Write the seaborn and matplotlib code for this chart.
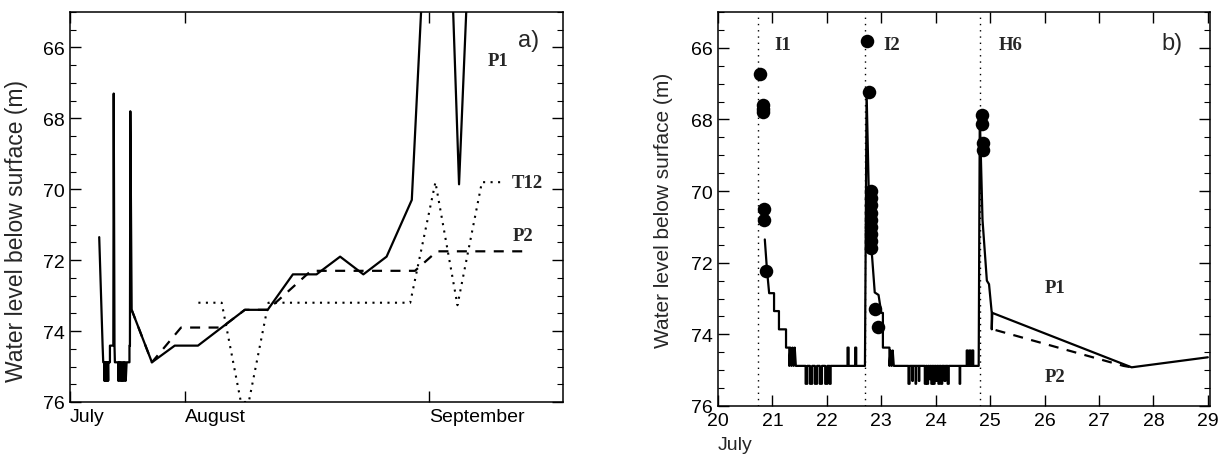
import matplotlib
matplotlib.use("Agg")
import matplotlib.pyplot as plt
import seaborn as sns
import pandas as pd
from matplotlib.ticker import MultipleLocator

sns.set_theme(style="ticks")
plt.rcParams['font.family'] = ['Liberation Sans', 'DejaVu Sans']

# ---------------- Panel a) : days counted from 1 July (Aug 1 = 32, Sep 1 = 63)
a_month_ticks = [17.4, 32, 63]
a_month_labels = ["July", "August", "September"]

a_p1_day = [21.11, 21.54, 21.62, 21.75,
            21.75, 21.80, 21.85, 21.90, 21.95, 22.00, 22.05, 22.10, 22.15, 22.20, 22.25, 22.28,
            22.47, 22.47, 22.90, 22.95, 23.05, 23.10,
            23.52, 23.52, 23.60, 23.68, 23.76, 23.84, 23.92, 24.00, 24.08, 24.16, 24.24, 24.32, 24.40, 24.48, 24.59,
            24.95, 24.95, 25.01, 25.06, 25.23, 27.80, 30.70, 33.65, 39.60, 42.50, 45.70, 48.70,
            51.70, 54.65, 57.60, 60.80, 62.20, 65.90, 66.80, 67.90]
a_p1_level = [71.35, 74.41, 74.88, 74.88,
              75.40, 74.88, 75.40, 74.88, 75.40, 74.88, 75.40, 74.88, 75.40, 74.88, 75.40, 74.88,
              74.88, 74.41, 74.41, 67.30, 74.41, 74.88,
              74.88, 75.40, 74.88, 75.40, 74.88, 75.40, 74.88, 75.40, 74.88, 75.40, 74.88, 75.40, 74.88, 75.40, 74.88,
              74.88, 74.41, 74.41, 67.80, 73.40, 74.88, 74.41, 74.41, 73.40, 73.40, 72.40, 72.40,
              71.90, 72.40, 71.90, 70.30, 64.00, 64.00, 69.86, 64.00]

a_p2_day = [25.23, 27.80, 31.50, 36.66, 39.60, 42.50, 48.00, 61.20, 64.00, 75.80]
a_p2_level = [73.40, 74.88, 73.90, 73.90, 73.40, 73.40, 72.30, 72.30, 71.75, 71.75]

a_t12_day = [33.70, 36.66, 39.10, 40.10, 42.60, 60.60, 63.80, 66.60, 69.70, 72.40]
a_t12_level = [73.20, 73.20, 76.00, 76.00, 73.20, 73.20, 69.80, 73.27, 69.80, 69.80]

# ---------------- Panel b) : days of July
b_p1_day = [20.86, 20.90, 20.94, 21.03, 21.03, 21.12, 21.12, 21.25, 21.25, 21.31,
            21.31, 21.33, 21.35, 21.37, 21.39, 21.41, 21.43,
            21.61, 21.61, 21.64, 21.64, 21.69, 21.69, 21.73, 21.73, 21.78, 21.78, 21.82, 21.82,
            21.87, 21.87, 21.91, 21.91, 21.97, 21.97, 22.01, 22.01, 22.05, 22.05, 22.07, 22.07,
            22.38, 22.38, 22.40, 22.40, 22.52, 22.52, 22.54, 22.54,
            22.70, 22.73, 22.77, 22.82, 22.88, 22.95, 23.00, 23.03, 23.03, 23.15, 23.15,
            23.17, 23.19, 23.21, 23.23, 23.26,
            23.50, 23.50, 23.52, 23.52, 23.57, 23.57, 23.58, 23.58, 23.63, 23.63, 23.64, 23.64,
            23.69, 23.69, 23.70, 23.70, 23.80, 23.80, 23.82, 23.82, 23.84, 23.84, 23.86, 23.86,
            23.88, 23.88, 23.90, 23.90, 23.92, 23.92, 23.94, 23.94, 23.96, 23.96, 23.98, 23.98,
            24.00, 24.00, 24.02, 24.02, 24.05, 24.05, 24.07, 24.07, 24.10, 24.10, 24.12, 24.12,
            24.16, 24.16, 24.18, 24.18, 24.22, 24.22, 24.24, 24.24, 24.44, 24.44, 24.45, 24.45,
            24.57, 24.57, 24.59, 24.59, 24.62, 24.62, 24.64, 24.64, 24.67, 24.67, 24.69, 24.69,
            24.79, 24.81, 24.86, 24.94, 24.98, 25.03, 25.03, 25.04, 27.60, 29.00]
b_p1_level = [71.35, 72.20, 72.85, 72.85, 73.35, 73.35, 73.86, 73.86, 74.37, 74.37,
              74.88, 74.37, 74.88, 74.37, 74.88, 74.37, 74.88,
              74.88, 75.38, 75.38, 74.88, 74.88, 75.38, 75.38, 74.88, 74.88, 75.38, 75.38, 74.88,
              74.88, 75.38, 75.38, 74.88, 74.88, 75.38, 75.38, 74.88, 74.88, 75.38, 75.38, 74.88,
              74.88, 74.37, 74.37, 74.88, 74.88, 74.37, 74.37, 74.88,
              74.88, 67.22, 70.00, 71.60, 72.83, 72.90, 73.40, 73.40, 74.37, 74.37, 74.88,
              74.45, 74.88, 74.45, 74.88, 74.88,
              74.88, 75.38, 75.38, 74.88, 74.88, 75.30, 75.30, 74.88, 74.88, 75.38, 75.38, 74.88,
              74.88, 75.30, 75.30, 74.88, 74.88, 75.38, 75.38, 74.88, 74.88, 75.38, 75.38, 74.88,
              74.88, 75.25, 75.25, 74.88, 74.88, 75.38, 75.38, 74.88, 74.88, 75.38, 75.38, 74.88,
              74.88, 75.30, 75.30, 74.88, 74.88, 75.38, 75.38, 74.88, 74.88, 75.38, 75.38, 74.88,
              74.88, 75.30, 75.30, 74.88, 74.88, 75.38, 75.38, 74.88, 74.88, 75.38, 75.38, 74.88,
              74.88, 74.45, 74.45, 74.88, 74.88, 74.45, 74.45, 74.88, 74.88, 74.45, 74.45, 74.88,
              74.88, 67.87, 70.80, 72.50, 72.60, 73.40, 73.86, 73.40, 74.92, 74.64]

b_p2_day = [25.10, 27.45, 27.60]
b_p2_level = [73.88, 74.88, 74.92]

b_dot_day = [20.775, 20.82, 20.82, 20.82, 20.84, 20.84, 20.88,
             22.74, 22.77, 22.81, 22.81, 22.81, 22.81, 22.82, 22.82, 22.82, 22.82, 22.82, 22.89, 22.94,
             24.85, 24.85, 24.86, 24.86]
b_dot_level = [66.73, 67.60, 67.70, 67.80, 70.50, 70.80, 72.23,
               65.82, 67.22, 70.00, 70.20, 70.40, 70.60, 70.80, 71.00, 71.20, 71.40, 71.60, 73.30, 73.80,
               67.87, 68.14, 68.65, 68.84]

event_day = [20.73, 22.71, 24.82]
event_name = ["I1", "I2", "H6"]
b_day_ticks = [20, 21, 22, 23, 24, 25, 26, 27, 28, 29]

# ---------------- Figure
fig = plt.figure(figsize=(12.21, 4.56), dpi=100)
ax1 = fig.add_axes([0.05733, 0.11623, 0.40377, 0.85526])
ax2 = fig.add_axes([0.58804, 0.10746, 0.40295, 0.86404])

lw = 1.6
serif = dict(family=['Liberation Serif', 'DejaVu Serif'], fontweight='bold', fontsize=13.5)

# Panel a
sns.lineplot(x=a_p1_day, y=a_p1_level, sort=False, estimator=None, color='black', lw=lw, ax=ax1)
sns.lineplot(x=a_p2_day, y=a_p2_level, sort=False, estimator=None, color='black', lw=lw,
             linestyle=(0, (4.5, 3.8)), ax=ax1)
sns.lineplot(x=a_t12_day, y=a_t12_level, sort=False, estimator=None, color='black', lw=1.5,
             linestyle=(0, (1, 2.6)), ax=ax1)

ax1.set_xlim(17.4, 80.0)
ax1.set_ylim(76, 65)
ax1.set_xticks(a_month_ticks)
ax1.set_xticklabels(a_month_labels)
for t in ax1.get_xticklabels():
    t.set_horizontalalignment('left')
ax1.yaxis.set_major_locator(MultipleLocator(2))
ax1.yaxis.set_minor_locator(MultipleLocator(0.5))
ax1.text(70.4, 66.37, "P1", ha='left', va='center', **serif)
ax1.text(73.5, 69.8, "T12", ha='left', va='center', **serif)
ax1.text(73.6, 71.3, "P2", ha='left', va='center', **serif)
ax1.text(75.6, 65.8, "a)", ha='center', va='center', fontsize=17)
ax1.set_ylabel("Water level below surface (m)", fontsize=16.5)
ax1.yaxis.set_label_coords(-0.086, 0.44)
ax1.set_xlabel("")

# Panel b
for d in event_day:
    ax2.axvline(d, color='black', lw=1.0, linestyle=(0, (1, 3.5)))
sns.lineplot(x=b_p1_day, y=b_p1_level, sort=False, estimator=None, color='black', lw=lw, ax=ax2)
sns.lineplot(x=b_p2_day, y=b_p2_level, sort=False, estimator=None, color='black', lw=lw,
             linestyle=(0, (4.5, 3.8)), ax=ax2)
sns.scatterplot(x=b_dot_day, y=b_dot_level, color='black', s=95, linewidth=0, zorder=5, ax=ax2)

ax2.set_xlim(20, 29.04)
ax2.set_ylim(76, 65)
ax2.set_xticks(b_day_ticks)
ax2.yaxis.set_major_locator(MultipleLocator(2))
ax2.yaxis.set_minor_locator(MultipleLocator(0.5))
name_x = [21.19, 23.19, 25.37]
for nx, nm in zip(name_x, event_name):
    ax2.text(nx, 65.9, nm, ha='center', va='center', **serif)
ax2.text(26.19, 72.69, "P1", ha='center', va='center', **serif)
ax2.text(26.19, 75.19, "P2", ha='center', va='center', **serif)
ax2.text(28.35, 65.86, "b)", ha='center', va='center', fontsize=17)
ax2.text(0.0, -0.097, "July", transform=ax2.transAxes, ha='left', va='center', fontsize=14)
ax2.set_ylabel("Water level below surface (m)", fontsize=15)
ax2.yaxis.set_label_coords(-0.091, 0.5)
ax2.set_xlabel("")

for ax in (ax1, ax2):
    ax.set_facecolor('white')
    for s in ax.spines.values():
        s.set_visible(True)
        s.set_color('black')
        s.set_linewidth(1.1)
    ax.tick_params(which='both', direction='in', top=True, right=True, colors='black',
                   labelsize=14, pad=4)
    ax.tick_params(which='major', length=8, width=1.0)
    ax.tick_params(which='minor', length=4, width=0.8)
    ax.tick_params(axis='x', which='minor', bottom=False, top=False)

fig.savefig("out.png", dpi=100, facecolor='white')
